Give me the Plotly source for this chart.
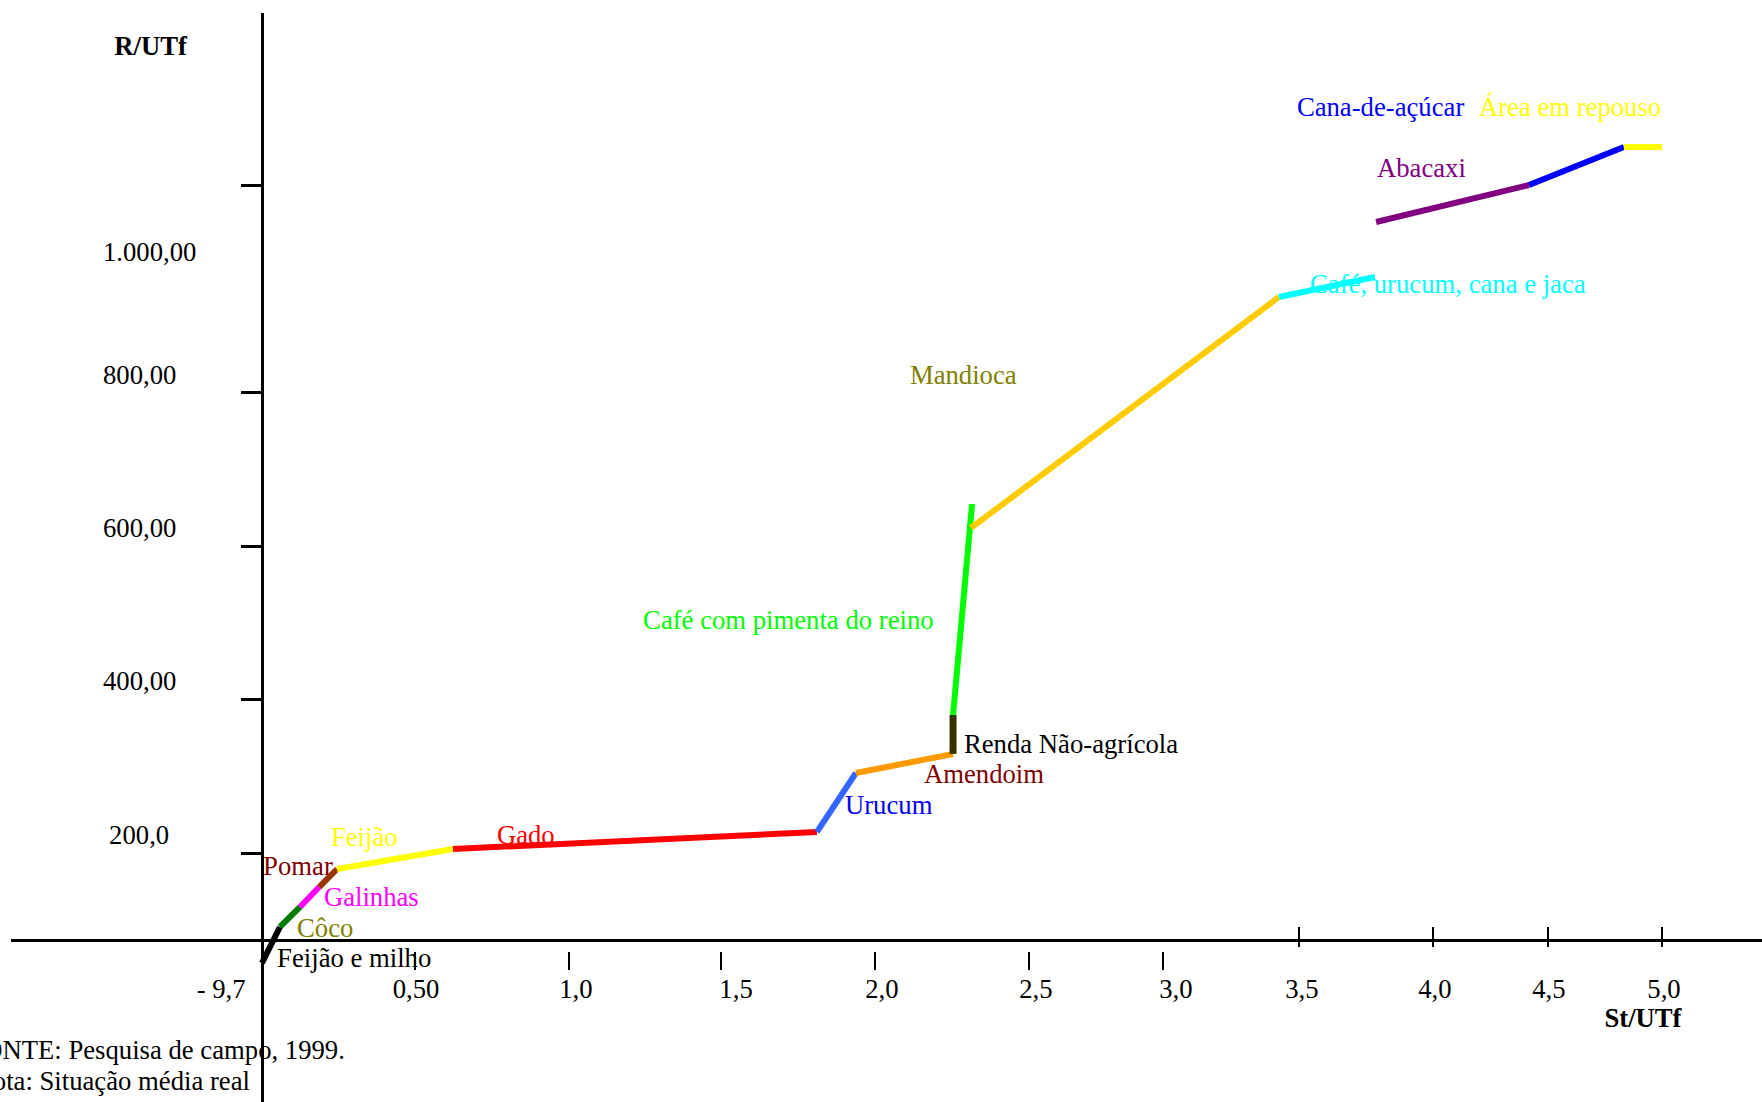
import plotly.graph_objects as go

FONT = "Liberation Serif"
FS = 26.7

# trechos da curva (St/UTf e R/UTf na escala do desenho)
atividades = [
    "Feijão e milho", "Côco", "Galinhas", "Pomar", "Feijão", "Gado", "Urucum",
    "Amendoim", "Renda Não-agrícola", "Café com pimenta do reino", "Mandioca",
    "Café, urucum, cana e jaca", "Abacaxi", "Cana-de-açúcar", "Área em repouso",
]
st_inicio = [0.000, 0.064, 0.136, 0.204, 0.268, 0.682, 1.982, 2.121, 2.468, 2.468,
             2.532, 3.632, 3.979, 4.525, 4.864]
st_fim = [0.064, 0.136, 0.204, 0.268, 0.682, 1.982, 2.121, 2.468, 2.468, 2.536,
          3.632, 3.975, 4.525, 4.864, 5.000]
r_inicio = [-29.9, 16.9, 42.9, 68.8, 92.2, 118.2, 140.3, 216.9, 241.6, 292.2,
            535.1, 835.1, 932.5, 980.5, 1029.9]
r_fim = [16.9, 42.9, 68.8, 92.2, 118.2, 140.3, 216.9, 241.6, 292.2, 566.2,
         835.1, 861.0, 980.5, 1029.9, 1029.9]
cor_linha = ["#000000", "#007a00", "#ff00ff", "#993300", "#ffff00", "#ff0000", "#3366ff",
             "#ff9900", "#333300", "#00ff00", "#ffcc00", "#00ffff", "#800080", "#0000ff",
             "#ffff00"]

# rótulos das atividades (canto esquerdo, meio)
rot_x = [0.054, 0.125, 0.221, 0.004, 0.246, 0.839, 2.082, 2.364, 2.507, 1.361,
         2.314, 3.743, 3.982, 3.696, 4.346]
rot_y = [-26.4, 12.6, 52.8, 93.1, 130.8, 133.4, 172.3, 212.6, 251.5, 412.6,
         730.8, 848.9, 999.6, 1078.8, 1078.8]
cor_rotulo = ["#000000", "#808000", "#ff00ff", "#800000", "#ffff00", "#ff0000", "#0000ff",
              "#800000", "#000000", "#00ff00", "#808000", "#00ffff", "#800080", "#0000ff",
              "#ffff00"]

# eixos
x_ticks_baixo = [0.546, 1.096, 1.639, 2.189, 2.739, 3.218]
x_ticks_cruz = [3.704, 4.182, 4.593, 5.000]
x_rotulos = ["- 9,7", "0,50", "1,0", "1,5", "2,0", "2,5", "3,0", "3,5", "4,0", "4,5", "5,0"]
x_rotulos_pos = [-0.146, 0.550, 1.121, 1.693, 2.214, 2.764, 3.264, 3.714, 4.189, 4.596, 5.007]
X_ROT_Y = -66.6

y_ticks = [111.7, 311.7, 510.4, 710.4, 980.5]
y_rotulos = ["200,0", "400,00", "600,00", "800,00", "1.000,00"]
y_rotulos_x = [-0.546, -0.568, -0.568, -0.568, -0.568]
y_rotulos_y = [133.4, 333.4, 532.1, 730.8, 890.5]

fonte = ["FONTE: Pesquisa de campo, 1999.", "Nota: Situação média real"]
fonte_x = [0.296, -0.043]
fonte_y = [-145.9, -186.1]

X_RANGE = [-0.8964, 5.3571]
Y_RANGE = [-210.4, 1203.9]

fig = go.Figure()

# textos primeiro (linhas e eixos ficam por cima)
fig.add_trace(go.Scatter(
    x=rot_x, y=rot_y, text=atividades, mode="text", textposition="middle right",
    textfont=dict(family=FONT, size=FS, color=cor_rotulo), cliponaxis=False,
    showlegend=False, hoverinfo="skip",
))
fig.add_trace(go.Scatter(
    x=x_rotulos_pos, y=[X_ROT_Y] * len(x_rotulos), text=x_rotulos, mode="text",
    textposition="middle center", textfont=dict(family=FONT, size=FS, color="black"),
    cliponaxis=False, showlegend=False, hoverinfo="skip",
))
fig.add_trace(go.Scatter(
    x=y_rotulos_x, y=y_rotulos_y, text=y_rotulos, mode="text",
    textposition="middle right", textfont=dict(family=FONT, size=FS, color="black"),
    cliponaxis=False, showlegend=False, hoverinfo="skip",
))
fig.add_trace(go.Scatter(
    x=fonte_x, y=fonte_y, text=fonte, mode="text", textposition="middle left",
    textfont=dict(family=FONT, size=FS, color="black"), cliponaxis=False,
    showlegend=False, hoverinfo="skip",
))
fig.add_trace(go.Scatter(
    x=[-0.398, 4.932], y=[1158.0, -104.3], text=["<b>R/UTf</b>", "<b>St/UTf</b>"],
    mode="text", textposition="middle center",
    textfont=dict(family=FONT, size=FS, color="black"), cliponaxis=False,
    showlegend=False, hoverinfo="skip",
))

for nome, x0, x1, y0, y1, cor in zip(atividades, st_inicio, st_fim, r_inicio, r_fim, cor_linha):
    fig.add_trace(go.Scatter(
        x=[x0, x1], y=[y0, y1], mode="lines", name=nome,
        line=dict(color=cor, width=7 if nome == "Renda Não-agrícola" else 6),
        showlegend=False,
    ))

# eixos auxiliares só para as marcas do eixo x
fig.add_trace(go.Scatter(x=[None], y=[None], xaxis="x2", showlegend=False, hoverinfo="skip"))
fig.add_trace(go.Scatter(x=[None], y=[None], xaxis="x3", showlegend=False, hoverinfo="skip"))

x_domain = [11 / 1762, 1]
fig.update_layout(
    width=1762, height=1102, autosize=False,
    margin=dict(l=0, r=0, t=0, b=0, pad=0),
    paper_bgcolor="white", plot_bgcolor="white",
    xaxis=dict(
        domain=x_domain, range=X_RANGE, anchor="free", position=(1102 - 940) / 1102,
        showline=True, linewidth=3, linecolor="black", ticks="", showticklabels=False,
        showgrid=False, zeroline=False,
    ),
    xaxis2=dict(
        domain=x_domain, range=X_RANGE, overlaying="x", anchor="free",
        position=(1102 - 951) / 1102, showline=False, ticks="outside", ticklen=18,
        tickwidth=2, tickcolor="black", tickvals=x_ticks_baixo, showticklabels=False,
        showgrid=False, zeroline=False,
    ),
    xaxis3=dict(
        domain=x_domain, range=X_RANGE, overlaying="x", anchor="free",
        position=(1102 - 947) / 1102, showline=False, ticks="inside", ticklen=20,
        tickwidth=2, tickcolor="black", tickvals=x_ticks_cruz, showticklabels=False,
        showgrid=False, zeroline=False,
    ),
    yaxis=dict(
        domain=[0, 1 - 13 / 1102], range=Y_RANGE, anchor="free", position=262 / 1762,
        showline=True, linewidth=3, linecolor="black", ticks="outside", ticklen=20,
        tickwidth=3, tickcolor="black", tickvals=y_ticks, showticklabels=False,
        showgrid=False, zeroline=False,
    ),
    hovermode=False,
)

# sem a margem padrão do <body>
fig.write_html(
    "out.html",
    config={"displayModeBar": False},
    post_script="document.body.style.margin = '0';",
)
